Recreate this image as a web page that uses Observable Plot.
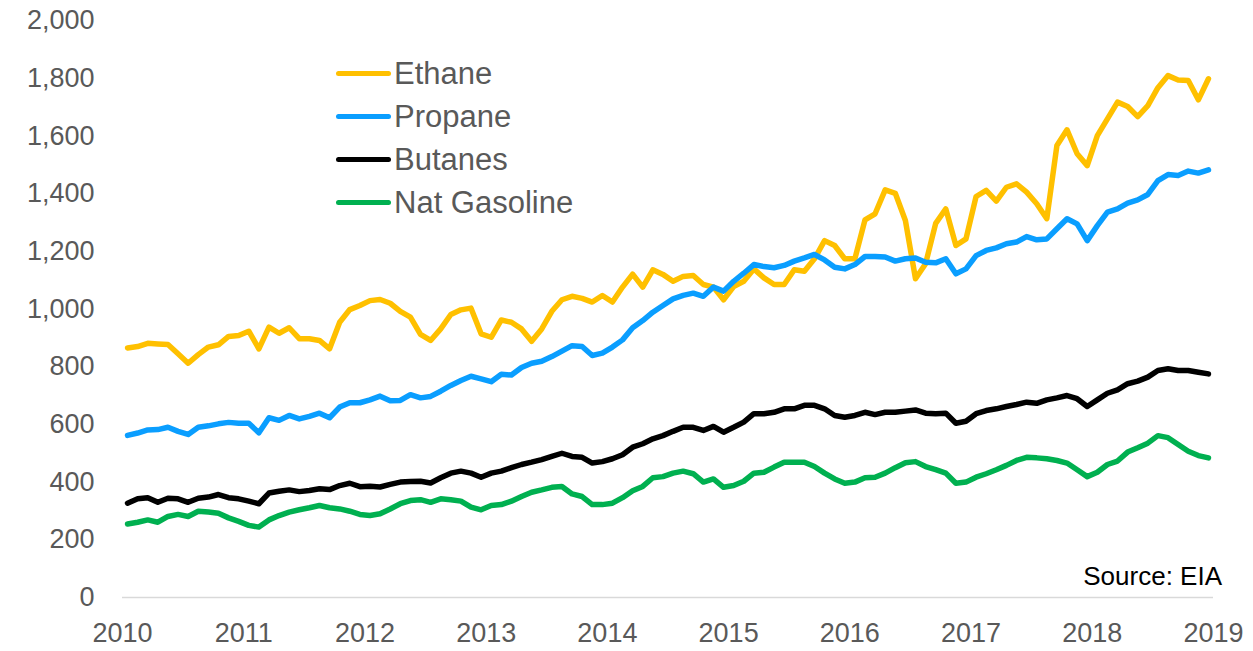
<!DOCTYPE html>
<html>
<head>
<meta charset="utf-8">
<script src="https://cdn.jsdelivr.net/npm/d3@7"></script>
<script src="https://cdn.jsdelivr.net/npm/@observablehq/plot@0.6"></script>
<style>
  html, body { margin: 0; padding: 0; background: #fff; }
  #wrap { position: relative; width: 1253px; height: 651px; font-family: "Liberation Sans", Arial, sans-serif; }
  #legend .row { position: absolute; left: 336px; display: flex; align-items: center; height: 31px; }
  #legend .sw { width: 55px; height: 5px; border-radius: 2.5px; }
  #legend .lb { font-size: 31px; line-height: 31px; color: #595959; margin-left: 3px; white-space: nowrap; }
  #source { position: absolute; right: 31px; top: 563px; font-size: 26px; line-height: 26px; color: #000; white-space: nowrap; }
</style>
</head>
<body>
<div id="wrap">
  <div id="chart"></div>
  <div id="legend"></div>
  <div id="source">Source: EIA</div>
</div>
<script>
// Monthly data, Jan 2010 – Dec 2018 (thousand b/d)
const startYear = 2010;
const yearTicks = [2010, 2011, 2012, 2013, 2014, 2015, 2016, 2017, 2018, 2019];
const valueTicks = [0, 200, 400, 600, 800, 1000, 1200, 1400, 1600, 1800, 2000];
const seriesNames = ["Ethane", "Propane", "Butanes", "Nat Gasoline"];
const seriesColors = ["#FFC000", "#0A9EFF", "#000000", "#00B050"];

const ethane = [865, 870, 881, 879, 877, 845, 812, 842, 868, 876, 905, 908, 923, 862, 937, 916, 935, 897, 897, 891,
  862, 954, 998, 1012, 1029, 1033, 1020, 992, 972, 912, 891, 931, 981, 997, 1003, 914, 902, 962, 954, 931,
  888, 931, 992, 1032, 1044, 1037, 1024, 1047, 1024, 1076, 1121, 1076, 1136, 1120, 1096, 1113, 1116, 1085, 1076, 1032,
  1078, 1096, 1139, 1108, 1085, 1085, 1136, 1131, 1174, 1237, 1220, 1174, 1174, 1309, 1330, 1413, 1401, 1307, 1105, 1157,
  1297, 1347, 1220, 1243, 1390, 1411, 1374, 1422, 1434, 1405, 1365, 1313, 1567, 1621, 1538, 1497, 1601, 1659, 1717, 1702,
  1667, 1705, 1767, 1809, 1794, 1792, 1725, 1798];

const propane = [562, 570, 581, 582, 590, 576, 565, 590, 595, 602, 607, 604, 604, 571, 623, 614, 631, 619, 628, 639,
  623, 660, 675, 675, 685, 698, 682, 683, 703, 692, 697, 715, 735, 752, 767, 758, 748, 774, 771, 797,
  812, 819, 835, 854, 873, 870, 839, 847, 868, 893, 935, 960, 989, 1012, 1035, 1047, 1055, 1044, 1076, 1062,
  1096, 1124, 1154, 1147, 1143, 1151, 1166, 1177, 1189, 1170, 1145, 1139, 1154, 1182, 1182, 1180, 1166, 1174, 1177, 1162,
  1160, 1174, 1122, 1139, 1185, 1203, 1212, 1226, 1232, 1251, 1240, 1243, 1278, 1313, 1295, 1237, 1289, 1336, 1347, 1367,
  1378, 1397, 1445, 1466, 1463, 1478, 1471, 1482];

const butanes = [327, 342, 346, 330, 344, 342, 330, 344, 348, 357, 346, 342, 334, 325, 362, 368, 373, 367, 371, 377,
  374, 388, 396, 384, 386, 383, 392, 400, 402, 403, 397, 415, 431, 438, 431, 417, 431, 438, 450, 461,
  469, 478, 489, 500, 489, 486, 466, 471, 481, 495, 521, 533, 550, 561, 576, 590, 590, 579, 593, 573,
  590, 608, 637, 637, 642, 654, 654, 666, 666, 654, 631, 625, 631, 642, 634, 642, 642, 646, 650, 639,
  637, 639, 604, 611, 637, 648, 654, 662, 669, 677, 673, 685, 692, 700, 689, 662, 685, 708, 720, 741,
  750, 764, 787, 793, 787, 787, 781, 775];

const natGasoline = [255, 261, 269, 261, 281, 288, 281, 299, 296, 292, 276, 264, 250, 244, 269, 284, 296, 304, 311, 319,
  311, 307, 299, 288, 284, 290, 307, 325, 336, 339, 330, 342, 339, 334, 313, 304, 319, 322, 334, 350,
  365, 373, 382, 385, 359, 350, 322, 322, 327, 346, 370, 385, 415, 419, 431, 438, 429, 400, 411, 382,
  388, 403, 431, 434, 452, 469, 469, 469, 454, 431, 411, 396, 400, 415, 417, 431, 450, 467, 471, 454,
  443, 431, 396, 400, 417, 429, 443, 458, 475, 486, 484, 481, 475, 466, 443, 419, 434, 461, 473, 504,
  519, 535, 561, 554, 530, 507, 492, 484];

const seriesValues = [ethane, propane, butanes, natGasoline];
const data = seriesNames.flatMap((name, s) =>
  seriesValues[s].map((v, i) => ({ series: name, t: startYear + (i + 0.5) / 12, v }))
);

const chart = Plot.plot({
  width: 1253,
  height: 651,
  marginLeft: 122,
  marginRight: 40,
  marginTop: 20,
  marginBottom: 54,
  style: { fontFamily: "'Liberation Sans', Arial, sans-serif", fontSize: "27px", color: "#595959", background: "#fff" },
  x: { domain: [2010, 2019], ticks: yearTicks, tickFormat: d => String(d), tickSize: 0, tickPadding: 25, label: null },
  y: { domain: [0, 2000], ticks: valueTicks, tickFormat: d => d.toLocaleString("en-US"), tickSize: 0, tickPadding: 28, label: null },
  color: { domain: seriesNames, range: seriesColors },
  marks: [
    Plot.ruleY([0], { stroke: "#d9d9d9", strokeWidth: 1.5 }),
    Plot.line(data, { x: "t", y: "v", z: "series", stroke: "series", strokeWidth: 5.5, strokeLinejoin: "round", strokeLinecap: "round" })
  ]
});
document.getElementById("chart").appendChild(chart);

// Legend (HTML overlay)
const legend = document.getElementById("legend");
const rowTops = [57.5, 100.5, 143.5, 186.5];
seriesNames.forEach((name, i) => {
  const row = document.createElement("div");
  row.className = "row";
  row.style.top = rowTops[i] + "px";
  const sw = document.createElement("div");
  sw.className = "sw";
  sw.style.background = seriesColors[i];
  const lb = document.createElement("div");
  lb.className = "lb";
  lb.textContent = name;
  row.appendChild(sw);
  row.appendChild(lb);
  legend.appendChild(row);
});
</script>
</body>
</html>
